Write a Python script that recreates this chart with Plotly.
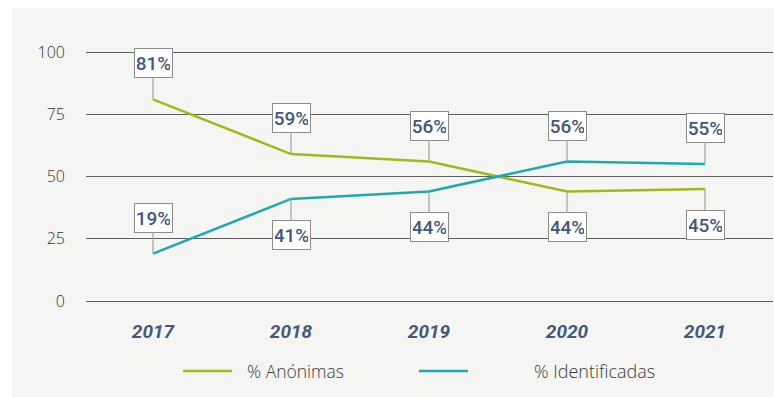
import plotly.graph_objects as go

# Data
years = ["2017", "2018", "2019", "2020", "2021"]
anonimas = [81, 59, 56, 44, 45]
identificadas = [19, 41, 44, 56, 55]
series_names = ["% Anónimas", "% Identificadas"]
y_ticks = [0, 25, 50, 75, 100]

# Styling
GREEN = "#a3b81b"
TEAL = "#20a8b1"
LABEL_BLUE = "#41597b"
GRID = "#5e5e5e"
PANEL = "#f5f5f3"

W, H = 774, 397
L, R, T, B = 86, 1, 8, 87
plot_w = W - L - R
plot_h = H - T - B
px_per_unit = 249 / 100.0
y_bottom = -(310 - 301) / px_per_unit
y_top = 100 + (52 - 8) / px_per_unit

step = 138.0
x_range = [-(153 - L) / step, 4 + (773 - 705) / step]

fig = go.Figure()
fig.add_trace(go.Scatter(x=years, y=anonimas, mode="lines", name=series_names[0],
                         line=dict(color=GREEN, width=2.5), showlegend=False, hoverinfo="skip"))
fig.add_trace(go.Scatter(x=years, y=identificadas, mode="lines", name=series_names[1],
                         line=dict(color=TEAL, width=2.5), showlegend=False, hoverinfo="skip"))

# Value call-outs: the higher series gets its box above, the lower one below
annotations = []
for i, yr in enumerate(years):
    a, b = anonimas[i], identificadas[i]
    for val, other in ((a, b), (b, a)):
        above = val >= other or i == 0
        annotations.append(dict(
            x=i, y=val, xref="x", yref="y",
            text=f"{val}%", showarrow=True, arrowhead=0, arrowwidth=1.3,
            arrowcolor="#a9a9a9", ax=0, ay=-36 if above else 36, standoff=0,
            width=33, height=24, align="center", valign="middle",
            bgcolor="white", bordercolor="#8c8c8c", borderwidth=1, borderpad=2,
            font=dict(family="Roboto", size=19, color=LABEL_BLUE, weight=500),
        ))

# Legend drawn as line samples with captions
def xp(px):
    return (px - L) / plot_w

def yp(py):
    return (T + plot_h - py) / plot_h

shapes = [
    dict(type="rect", xref="paper", yref="paper", x0=xp(12), x1=xp(W + 2),
         y0=yp(H + 2), y1=yp(8), fillcolor=PANEL, line=dict(width=0), layer="below"),
]
legend_items = [(series_names[0], GREEN, 183, 232, 245, 17.5),
                (series_names[1], TEAL, 419, 468, 532, 18)]
for name, color, x0, x1, tx, fs in legend_items:
    shapes.append(dict(type="line", xref="paper", yref="paper", x0=xp(x0), x1=xp(x1),
                       y0=yp(371), y1=yp(371), line=dict(color=color, width=2.5)))
    annotations.append(dict(x=xp(tx), y=yp(371), xref="paper", yref="paper",
                            xanchor="left", yanchor="middle", showarrow=False, text=name,
                            font=dict(family="Open Sans", size=fs, color="#3a3a3a", weight=300)))

fig.update_layout(
    width=W, height=H,
    margin=dict(l=L, r=R, t=T, b=B, pad=0),
    paper_bgcolor="white", plot_bgcolor="rgba(0,0,0,0)",
    shapes=shapes, annotations=annotations,
    xaxis=dict(type="category", range=x_range, showgrid=False, zeroline=False, showline=False,
               ticks="", ticklabelstandoff=8,
               tickfont=dict(family="Roboto", size=19, color=LABEL_BLUE, style="italic", weight=700)),
    yaxis=dict(range=[y_bottom, y_top], tickvals=y_ticks, showgrid=True, gridcolor=GRID,
               gridwidth=1.4, zeroline=False, showline=False, ticks="", ticklabelstandoff=20,
               tickfont=dict(family="Open Sans", size=16, color="#333333", weight=300)),
)

fig.write_html("out.html")
